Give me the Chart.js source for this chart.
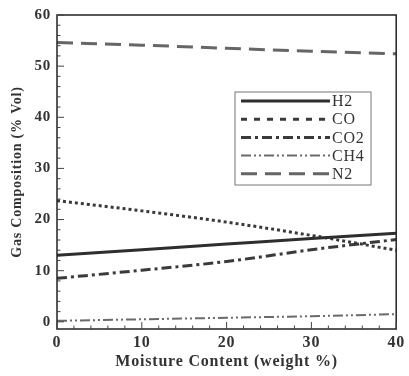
<!DOCTYPE html>
<html>
<head>
<meta charset="utf-8">
<script src="https://cdn.jsdelivr.net/npm/chart.js@4/dist/chart.umd.min.js"></script>
<style>
  html, body { margin: 0; padding: 0; background: #fff; }
  #wrap { width: 409px; height: 376px; }
</style>
</head>
<body>
<div id="wrap"><canvas id="gasChart" width="409" height="376"></canvas></div>
<script>
// moisture content (weight %)
const moisture = [0, 10, 20, 30, 40]
// gas composition (% vol)
const h2 = [13.0, 14.1, 15.2, 16.3, 17.3]
const co = [23.7, 21.7, 19.5, 16.9, 14.0]
const co2 = [8.5, 10.1, 11.8, 14.1, 16.1]
const ch4 = [0.2, 0.5, 0.8, 1.1, 1.5]
const n2 = [54.6, 54.1, 53.5, 52.9, 52.4]
const seriesNames = ['H2', 'CO', 'CO2', 'CH4', 'N2']
const xTicks = [0, 10, 20, 30, 40]
const yTicks = [0, 10, 20, 30, 40, 50, 60]

const serif = "'Liberation Serif', 'DejaVu Serif', serif"

function pts(vals) {
    return moisture.map((m, i) => ({ x: m, y: vals[i] }))
}

const styles = [
    { color: '#2e2e2e', width: 3, dash: [] },
    { color: '#3a3a3a', width: 3, dash: [3, 3] },
    { color: '#3a3a3a', width: 3, dash: [10, 4, 3, 4] },
    { color: '#6a6a6a', width: 2, dash: [10, 3, 2, 3, 2, 3] },
    { color: '#666666', width: 3, dash: [16, 8] },
]

const datasets = [h2, co, co2, ch4, n2].map((vals, i) => ({
    label: seriesNames[i],
    data: pts(vals),
    borderColor: styles[i].color,
    borderWidth: styles[i].width,
    borderDash: styles[i].dash,
    pointRadius: 0,
    fill: false,
    cubicInterpolationMode: 'monotone',
}))

// the scanned figure is a bit wide, so space the letters out a little
const spacingPlugin = {
    id: 'spacing',
    beforeUpdate(chart) { chart.ctx.letterSpacing = '0.8px' },
    beforeDraw(chart) { chart.ctx.letterSpacing = '0.8px' },
}

// frame, inward ticks and boxed legend
const framePlugin = {
    id: 'frame',
    afterDatasetsDraw(chart) {
        const { ctx, chartArea: a, scales } = chart
        ctx.save()
        ctx.strokeStyle = '#222'
        ctx.lineWidth = 1.5
        ctx.setLineDash([])
        ctx.strokeRect(a.left, a.top, a.right - a.left, a.bottom - a.top)

        ctx.lineWidth = 1
        ctx.strokeStyle = '#444'
        // x ticks on bottom
        for (let v = 0; v <= 40; v += 2) {
            const px = scales.x.getPixelForValue(v)
            const len = v % 10 === 0 ? 7 : 3.5
            ctx.beginPath()
            ctx.moveTo(px, a.bottom)
            ctx.lineTo(px, a.bottom - len)
            ctx.stroke()
        }
        // y ticks on left
        for (let v = 0; v <= 60; v += 2) {
            const py = scales.y.getPixelForValue(v)
            const len = v % 10 === 0 ? 7 : 3.5
            ctx.beginPath()
            ctx.moveTo(a.left, py)
            ctx.lineTo(a.left + len, py)
            ctx.stroke()
        }

        // legend box
        const bx = 235, by = 92, bw = 136, bh = 93
        ctx.fillStyle = '#fff'
        ctx.fillRect(bx, by, bw, bh)
        ctx.strokeStyle = '#777'
        ctx.lineWidth = 1
        ctx.strokeRect(bx, by, bw, bh)
        ctx.font = '16px ' + serif
        ctx.textBaseline = 'middle'
        chart.data.datasets.forEach((ds, i) => {
            const ly = by + 9 + i * 18.2
            ctx.strokeStyle = ds.borderColor
            ctx.lineWidth = ds.borderWidth
            ctx.setLineDash(i === 1 ? [6, 7] : ds.borderDash)
            ctx.beginPath()
            ctx.moveTo(bx + 6, ly)
            ctx.lineTo(bx + 95, ly)
            ctx.stroke()
            ctx.fillStyle = '#333'
            ctx.fillText(ds.label, bx + 97, ly + 1)
        })
        ctx.restore()
    }
}

const ctx = document.getElementById('gasChart').getContext('2d')
const gasChart = new Chart(ctx, {
    type: 'line',
    data: { datasets: datasets },
    options: {
        responsive: false,
        animation: false,
        layout: { padding: { top: 12, right: 8, left: 0, bottom: 0 } },
        plugins: {
            legend: { display: false },
            tooltip: { enabled: false },
        },
        scales: {
            x: {
                type: 'linear',
                min: 0,
                max: 40,
                afterBuildTicks: s => { s.ticks = xTicks.map(v => ({ value: v })) },
                afterFit: s => { s.height = 47 },
                grid: { display: false, drawTicks: false },
                border: { display: false },
                ticks: {
                    color: '#333',
                    padding: 4,
                    maxRotation: 0,
                    font: { family: serif, size: 16, weight: 'bold' },
                },
                title: {
                    display: true,
                    text: 'Moisture Content (weight %)',
                    color: '#333',
                    padding: { top: 0, bottom: 5 },
                    font: { family: serif, size: 16, weight: 'bold' },
                },
            },
            y: {
                type: 'linear',
                min: -1.4,
                max: 60,
                afterBuildTicks: s => { s.ticks = yTicks.map(v => ({ value: v })) },
                afterFit: s => { s.width = 57 },
                grid: { display: false, drawTicks: false },
                border: { display: false },
                ticks: {
                    color: '#333',
                    padding: 6,
                    font: { family: serif, size: 15, weight: 'bold' },
                },
                title: {
                    display: true,
                    text: 'Gas Composition (% Vol)',
                    color: '#333',
                    padding: { top: 9, bottom: 0 },
                    font: { family: serif, size: 14, weight: 'bold' },
                },
            },
        },
    },
    plugins: [spacingPlugin, framePlugin],
})
</script>
</body>
</html>
